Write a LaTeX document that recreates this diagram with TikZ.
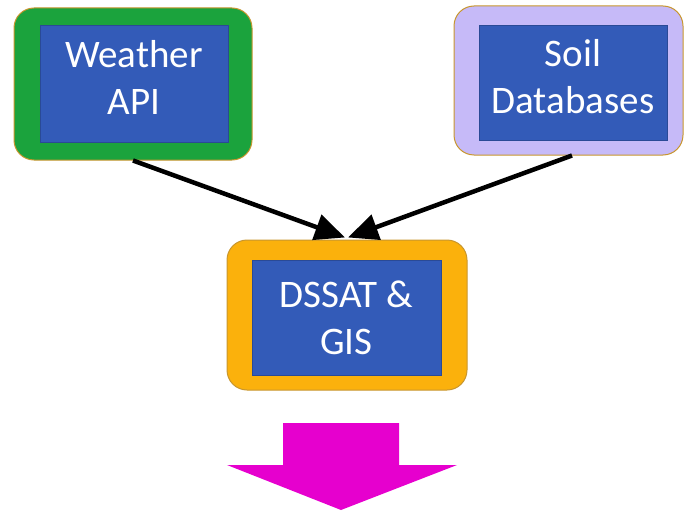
\documentclass[tikz,border=0pt]{standalone}
\usepackage{fontspec}
\setmainfont{Carlito}
\usetikzlibrary{arrows.meta,positioning}
\definecolor{Frame}{HTML}{C8962E}
\definecolor{Box}{HTML}{335BB8}
\definecolor{BoxLine}{HTML}{2A4A96}
\definecolor{Leaf}{HTML}{1BA33D}
\definecolor{Lilac}{HTML}{C6BAF8}
\definecolor{Amber}{HTML}{FBB10C}
\definecolor{Magenta}{HTML}{E600CE}
\tikzset{
  outerbox/.style={draw=Frame,line width=1pt,rounded corners=20pt,inner sep=0pt},
  innerbox/.style={draw=BoxLine,line width=.8pt,fill=Box,inner sep=0pt,text=white,
    align=center,font=\fontsize{39}{47}\selectfont,minimum width=188pt},
  feed/.style={-{Triangle[length=30pt,width=26pt]},line width=4.5pt,black}
}
\begin{document}
\begin{tikzpicture}[x=1pt,y=-1pt]
        \useasboundingbox(0,0)rectangle(684,513);
        % sources
        \node[outerbox,fill=Leaf,minimum width=238pt,minimum height=152pt](weather)at(133,84){};
        \node[innerbox,minimum height=117pt,text depth=12pt](weatherin)at(134,83.5){Weather\\API};
        \node[outerbox,fill=Lilac,minimum width=229pt,minimum height=149pt](soil)at(568.5,80.5){};
        \node[innerbox,minimum height=115pt,text depth=13pt](soilin)at(573,82.5){Soil\\Databases};
        % model
        \node[outerbox,fill=Amber,minimum width=240pt,minimum height=150pt](dssat)at(347,315){};
        \node[innerbox,minimum width=189pt,minimum height=115pt](dssatin)at(346.5,317.5){DSSAT \&\\GIS};
        \draw[feed](weather.south)--([xshift=-2pt,yshift=2pt]dssat.north);
        \draw[feed]([xshift=3.5pt]soil.south)--([xshift=1pt,yshift=2pt]dssat.north);
        % output
        \fill[Magenta](283,423)--(399,423)--(399,465)--(457,465)--(341,510)--(227,465)--(283,465)--cycle;
      \end{tikzpicture}
\end{document}
